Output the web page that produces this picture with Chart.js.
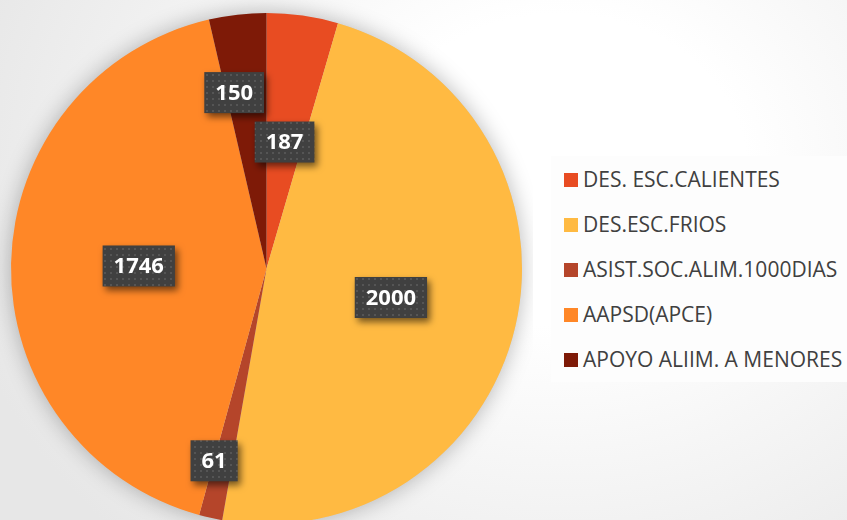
<!DOCTYPE html>
<html>
<head>
<meta charset="utf-8">
<script src="https://cdn.jsdelivr.net/npm/chart.js@4"></script>
<style>
  html, body { margin: 0; padding: 0; width: 847px; height: 520px; overflow: hidden; }
  body {
    position: relative;
    background: radial-gradient(ellipse 620px 520px at 560px 170px, #ffffff 0%, #ffffff 30%, #e7e7e7 100%);
    font-family: "Open Sans", sans-serif;
  }
  #pieWrap { position: absolute; left: 0; top: 0; width: 533px; height: 537px; }
  #legendBox {
    position: absolute; left: 551px; top: 156px; width: 300px; height: 226px;
    background: #fdfdfd;
  }
  #legendBox ul { list-style: none; margin: 0; padding: 0; }
  #legendBox li {
    position: absolute; left: 13px; height: 22px; line-height: 22px;
    font-size: 21px; color: #404040; white-space: nowrap;
  }
  #legendBox li span {
    display: inline-block; width: 14px; height: 14px; margin-right: 5px; vertical-align: 0px;
  }
</style>
</head>
<body>
<div id="pieWrap"><canvas id="pie"></canvas></div>
<div id="legendBox"><ul id="legendList"></ul></div>
<script>
// categories and values
const categories = ['DES. ESC.CALIENTES', 'DES.ESC.FRIOS', 'ASIST.SOC.ALIM.1000DIAS', 'AAPSD(APCE)', 'APOYO ALIIM. A MENORES'];
const values = [187, 2000, 61, 1746, 150];
const sliceColors = ['#E84C22', '#FFBA42', '#B5452A', '#FF8727', '#7E1A07'];

// where each value box sits along its slice (fraction of radius, angle nudge in degrees)
const labelRadius = [0.5, 0.5, 0.78, 0.5, 0.7];
const labelNudge = [0, 0, 2.6, 0, -3.9];

// small dotted texture for the value boxes
function makePattern(ctx) {
  const c = document.createElement('canvas');
  c.width = 6; c.height = 6;
  const p = c.getContext('2d');
  p.fillStyle = '#404040';
  p.fillRect(0, 0, 6, 6);
  p.fillStyle = '#555555';
  p.fillRect(2, 2, 2, 2);
  return ctx.createPattern(c, 'repeat');
}

// soft shadow behind the whole pie
const pieShadow = {
  id: 'pieShadow',
  beforeDatasetsDraw(chart) {
    const arc = chart.getDatasetMeta(0).data[0];
    if (!arc) return;
    const ctx = chart.ctx;
    ctx.save();
    ctx.shadowColor = 'rgba(0,0,0,0.28)';
    ctx.shadowBlur = 22;
    ctx.fillStyle = '#cccccc';
    ctx.beginPath();
    ctx.arc(arc.x, arc.y, arc.outerRadius, 0, Math.PI * 2);
    ctx.fill();
    ctx.restore();
  }
};

// dark value boxes
const valueBoxes = {
  id: 'valueBoxes',
  afterDatasetsDraw(chart) {
    const ctx = chart.ctx;
    const pattern = makePattern(ctx);
    const meta = chart.getDatasetMeta(0);
    ctx.save();
    ctx.font = 'bold 22px "Open Sans"';
    ctx.textAlign = 'center';
    ctx.textBaseline = 'middle';
    meta.data.forEach((arc, i) => {
      const mid = (arc.startAngle + arc.endAngle) / 2 + labelNudge[i] * Math.PI / 180;
      const r = arc.outerRadius * labelRadius[i];
      const cx = arc.x + Math.cos(mid) * r;
      const cy = arc.y + Math.sin(mid) * r;
      const txt = String(values[i]);
      const w = ctx.measureText(txt).width + 22;
      const h = 41;
      ctx.save();
      ctx.shadowColor = 'rgba(0,0,0,0.55)';
      ctx.shadowBlur = 7;
      ctx.shadowOffsetX = 3;
      ctx.shadowOffsetY = 4;
      ctx.fillStyle = pattern;
      ctx.fillRect(cx - w / 2, cy - h / 2, w, h);
      ctx.restore();
      ctx.fillStyle = '#ffffff';
      ctx.fillText(txt, cx, cy + 1);
    });
    ctx.restore();
  }
};

new Chart(document.getElementById('pie'), {
  type: 'pie',
  data: {
    labels: categories,
    datasets: [{
      data: values,
      backgroundColor: sliceColors,
      borderWidth: 0
    }]
  },
  options: {
    responsive: true,
    maintainAspectRatio: false,
    animation: false,
    layout: { padding: 11 },
    plugins: {
      legend: { display: false },
      tooltip: { enabled: false }
    }
  },
  plugins: [pieShadow, valueBoxes]
});

// legend on the right
const list = document.getElementById('legendList');
categories.forEach((name, i) => {
  const li = document.createElement('li');
  li.style.top = (12 + i * 45) + 'px';
  const sw = document.createElement('span');
  sw.style.background = sliceColors[i];
  li.appendChild(sw);
  li.appendChild(document.createTextNode(name));
  list.appendChild(li);
});
</script>
</body>
</html>
